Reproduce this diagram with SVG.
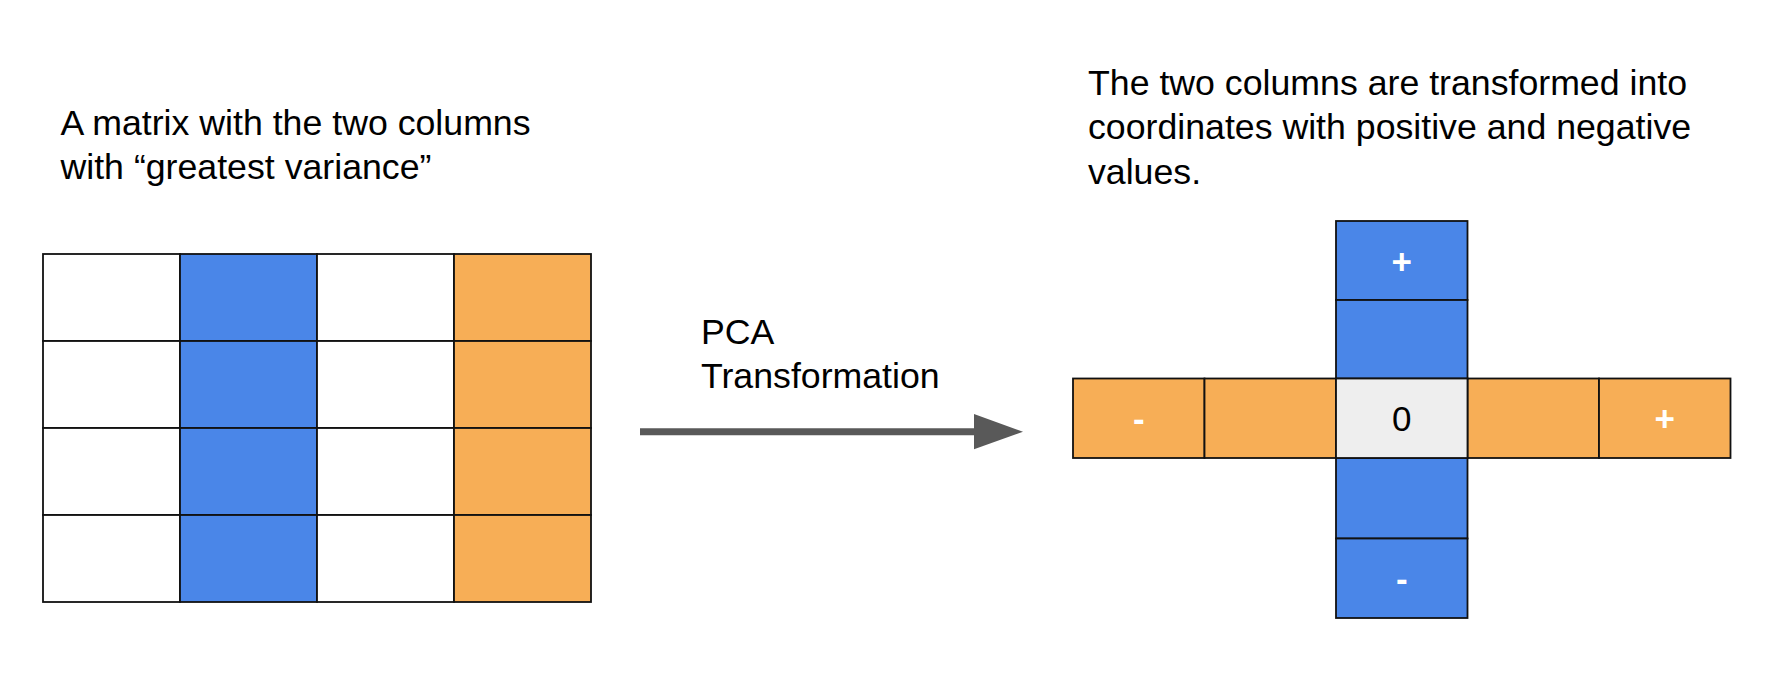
<svg xmlns="http://www.w3.org/2000/svg" width="1790" height="698" viewBox="0 0 1790 698">
<style>
.t{font-family:"Liberation Sans",Arial,sans-serif;font-size:35.7px;fill:#000}
.w{font-family:"Liberation Sans",Arial,sans-serif;font-size:35px;font-weight:bold;fill:#fff;text-anchor:middle}
.c{font-family:"Liberation Sans",Arial,sans-serif;font-size:35px;fill:#000;text-anchor:middle}
.cell{stroke:#111;stroke-width:1.8}
.wh{fill:#fff}
.bl{fill:#4a86e8}
.or{fill:#f7ae56}
.gr{fill:#eeeeee}
</style>
<rect width="1790" height="698" fill="#fff"/>
<g id="label-left">
<text class="t" x="60.5" y="135">A matrix with the two columns</text>
<text class="t" x="60.5" y="179">with “greatest variance”</text>
</g>
<g id="label-right">
<text class="t" x="1088" y="95">The two columns are transformed into</text>
<text class="t" x="1088" y="139">coordinates with positive and negative</text>
<text class="t" x="1088" y="184">values.</text>
</g>
<g id="label-pca">
<text class="t" x="701" y="344">PCA</text>
<text class="t" x="701" y="388">Transformation</text>
</g>
<g id="matrix">
<rect class="cell wh" x="43" y="254" width="137" height="87"/>
<rect class="cell bl" x="180" y="254" width="137" height="87"/>
<rect class="cell wh" x="317" y="254" width="137" height="87"/>
<rect class="cell or" x="454" y="254" width="137" height="87"/>
<rect class="cell wh" x="43" y="341" width="137" height="87"/>
<rect class="cell bl" x="180" y="341" width="137" height="87"/>
<rect class="cell wh" x="317" y="341" width="137" height="87"/>
<rect class="cell or" x="454" y="341" width="137" height="87"/>
<rect class="cell wh" x="43" y="428" width="137" height="87"/>
<rect class="cell bl" x="180" y="428" width="137" height="87"/>
<rect class="cell wh" x="317" y="428" width="137" height="87"/>
<rect class="cell or" x="454" y="428" width="137" height="87"/>
<rect class="cell wh" x="43" y="515" width="137" height="87"/>
<rect class="cell bl" x="180" y="515" width="137" height="87"/>
<rect class="cell wh" x="317" y="515" width="137" height="87"/>
<rect class="cell or" x="454" y="515" width="137" height="87"/>
</g>
<g id="connectors">
<line x1="640" y1="431.7" x2="976" y2="431.7" stroke="#595959" stroke-width="7"/>
<polygon points="974,414 1023,431.7 974,449.3" fill="#595959"/>
</g>
<g id="cross">
<g id="h-row">
<rect class="cell or" x="1073" y="378.5" width="131.5" height="79.5"/>
<rect class="cell or" x="1204.5" y="378.5" width="131.5" height="79.5"/>
<rect class="cell or" x="1467.5" y="378.5" width="131.5" height="79.5"/>
<rect class="cell or" x="1599" y="378.5" width="131.5" height="79.5"/>
<text class="w" x="1138.75" y="431">-</text>
<text class="w" x="1664.75" y="431">+</text>
</g>
<g id="v-col">
<rect class="cell bl" x="1336" y="221" width="131.5" height="79"/>
<rect class="cell bl" x="1336" y="300" width="131.5" height="78.5"/>
<rect class="cell bl" x="1336" y="458" width="131.5" height="80.5"/>
<rect class="cell bl" x="1336" y="538.5" width="131.5" height="79.5"/>
<text class="w" x="1401.75" y="273.5">+</text>
<text class="w" x="1401.75" y="591">-</text>
</g>
<g id="origin">
<rect class="cell gr" x="1336" y="378.5" width="131.5" height="79.5"/>
<text class="c" x="1401.75" y="430.5">0</text>
</g>
</g>
</svg>
